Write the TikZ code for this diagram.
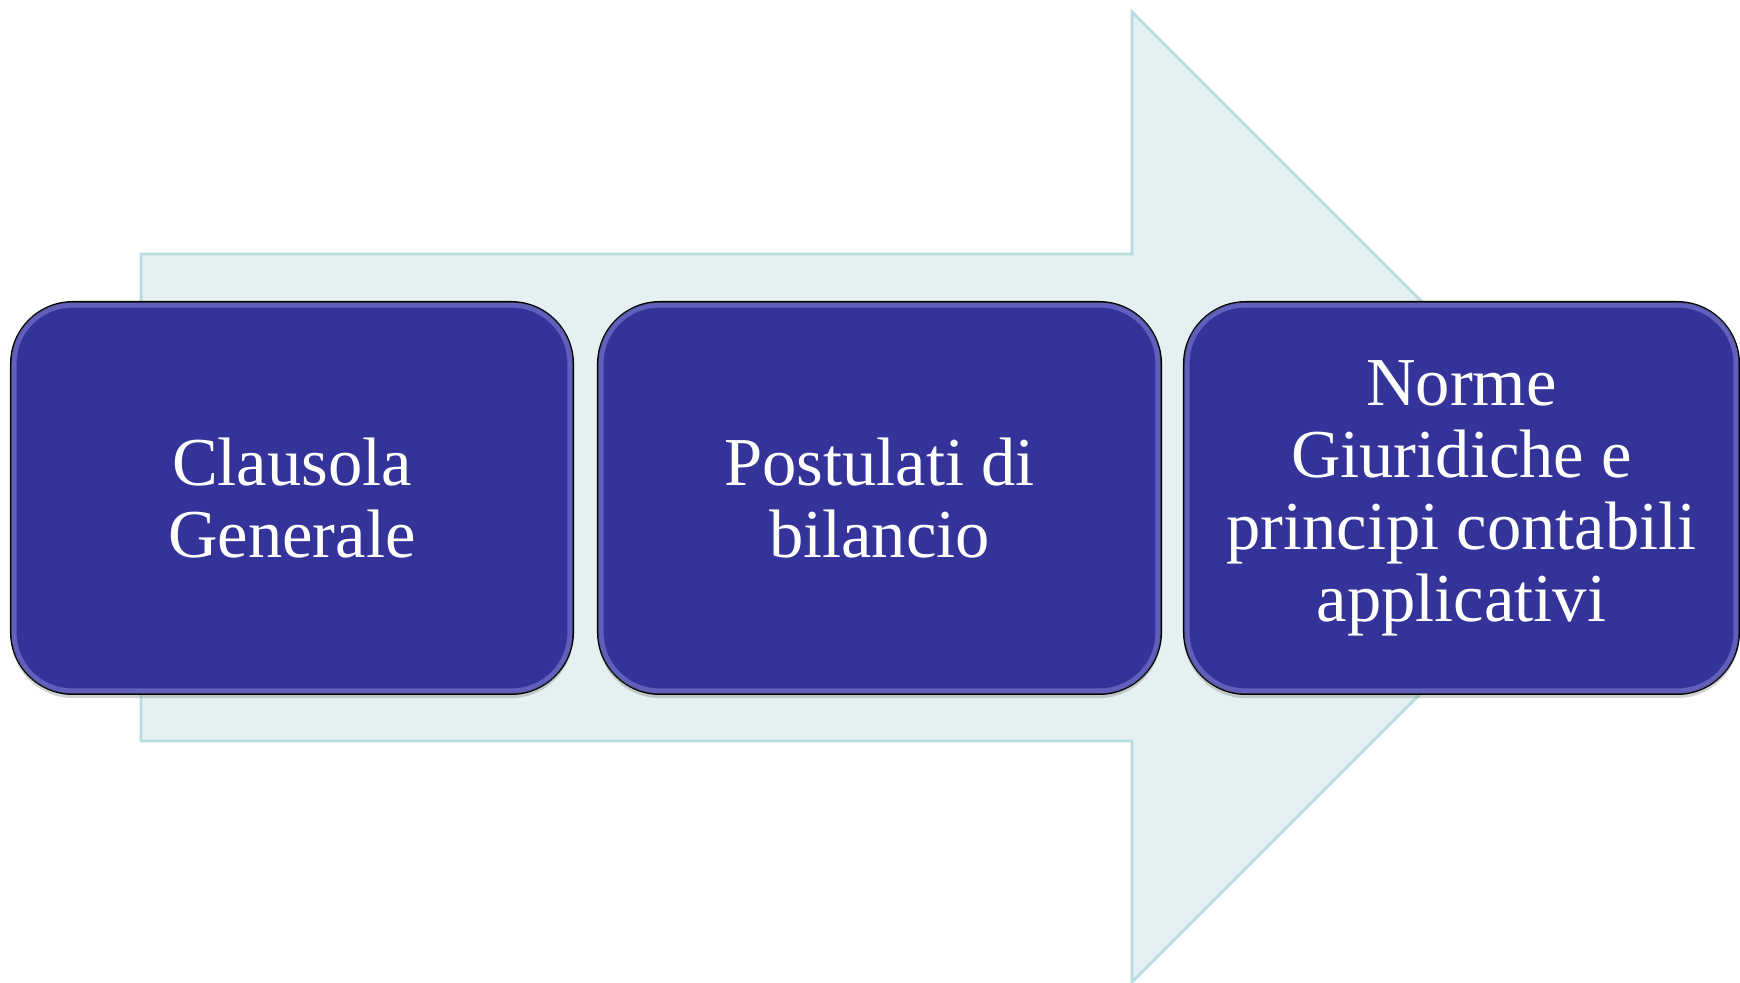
\documentclass[tikz,border=0pt]{standalone}
\usepackage{fontspec}
\setmainfont{Liberation Serif}
\usetikzlibrary{shadows}
\definecolor{boxblue}{RGB}{52,51,153}
\definecolor{rimblue}{RGB}{150,150,230}
\definecolor{arrowfill}{RGB}{228,240,241}
\definecolor{arrowline}{RGB}{184,221,224}
\tikzset{
  stepbox/.style={rounded corners=.62cm, draw=black, line width=.5pt,
    fill=boxblue, text=white, align=center, inner sep=0,
    minimum height=3.92cm,
    drop shadow={shadow xshift=0cm, shadow yshift=-.04cm, opacity=.35},
    font=\fontsize{19.5}{20.5}\selectfont},
  rim/.style={rounded corners=.58cm, draw=rimblue, line width=1.5pt, opacity=.45}
}
\begin{document}
\begin{tikzpicture}[x=.01cm, y=-.01cm]
  \useasboundingbox (0, 0) rectangle (1740, 983);
  % big arrow behind
  \draw[fill=arrowfill, draw=arrowline, line width=.8pt]
  (141, 254) -- (1132, 254) -- (1132, 12) -- (1617, 497) -- (1132, 982) --
  (1132, 741) -- (141, 741) -- cycle;

  \node at(292, 498) [stepbox, minimum width=5.62cm](clausola)
  {Clausola\\Generale};
  \node at(879.5, 498) [stepbox, minimum width=5.63cm](postulati)
  {Postulati di\\bilancio};
  \node at(1461.5, 498) [stepbox, minimum width=5.55cm](norme)
  {Norme\\Giuridiche e\\principi contabili\\applicativi};

  \foreach \n in {clausola, postulati, norme}
  \draw[rim] ([xshift=.04cm, yshift=.04cm]\n.south west) rectangle
  ([xshift=-.04cm, yshift=-.04cm]\n.north east);
\end{tikzpicture}
\end{document}
